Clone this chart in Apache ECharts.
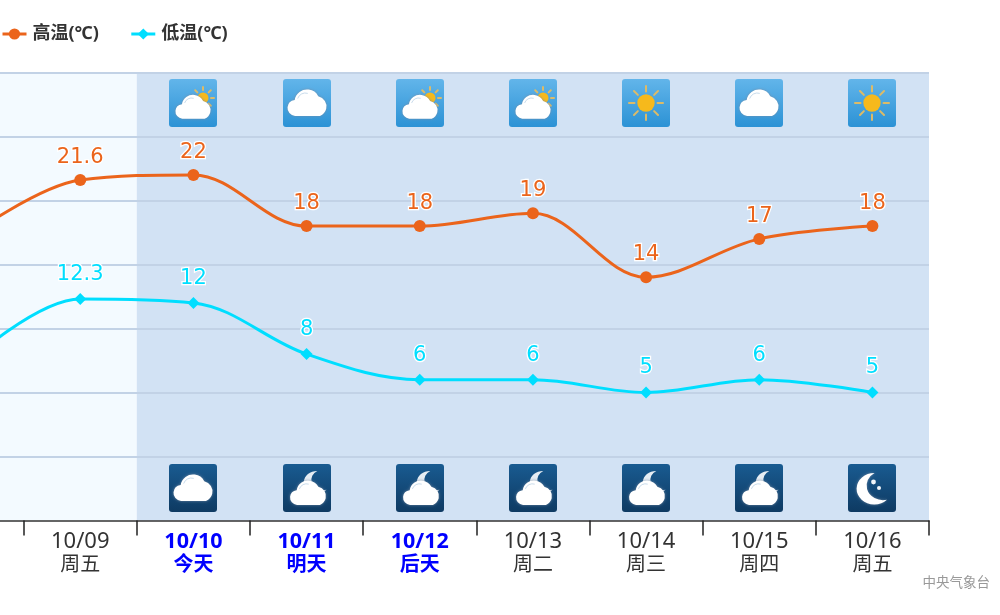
<!DOCTYPE html>
<html>
<head>
<meta charset="utf-8">
<style>html,body{margin:0;padding:0;background:#fff}#c{width:1000px;height:615px}</style>
<script src="https://cdn.jsdelivr.net/npm/echarts@6/dist/echarts.min.js"></script>
</head>
<body>
<div id="c"></div>
<script>
// Seven-day temperature forecast with day and night weather icons.
const dates = ['10/08','10/09','10/10','10/11','10/12','10/13','10/14','10/15','10/16'];
const weekdays = ['周四','周五','今天','明天','后天','周二','周三','周四','周五'];
const highlighted = ['10/10','10/11','10/12'];
const highs = [17.1,21.6,22,18,18,19,14,17,18];
const lows = [7.3,12.3,12,8,6,6,5,6,5];
const dayIcons = [null,null,'partly','cloud','partly','partly','sun','cloud','sun'];
const nightIcons = [null,null,'cloud','moonCloud','moonCloud','moonCloud','moonCloud','moonCloud','moon'];
const bandFills = ['rgba(0,0,0,0)','rgba(0,0,0,0)','#d2e2f4','#d2e2f4','#d2e2f4','#d2e2f4','#d2e2f4','#d2e2f4','#d2e2f4'];

const FONT = '"Noto Sans","Noto Sans CJK SC",sans-serif';
const VALUE_FONT = '"DejaVu Sans",sans-serif';
const ORANGE = '#eb641b', CYAN = '#00deff';
const DAY_ROW = 27.6, NIGHT_ROW = -2.45;

const CLOUD = 'M-12 13A7.4 7.4 0 0 1-12.3-1.7A11 11 0 0 1 8.5-5A9.5 9.5 0 0 1 10 13Z';
const MOON = 'M4-15A15.7 15.7 0 1 0 15 11.7A14.6 14.6 0 0 1 4-15Z';
const SHADE = {shadowBlur: 3, shadowColor: 'rgba(120,140,165,0.9)'};

function cloud(dx, dy, k) {
  return [
    {type: 'path', shape: {pathData: CLOUD, x: dx - 19.5 * k, y: dy - 13.5 * k, width: 39 * k, height: 26.5 * k, layout: 'cover'},
     style: Object.assign({fill: '#fff'}, SHADE)},
    {type: 'arc', shape: {cx: dx - 1.7 * k, cy: dy - 2 * k, r: 8 * k, startAngle: Math.PI * 1.1, endAngle: Math.PI * 1.6},
     style: {stroke: '#c9dcec', lineWidth: 1, fill: null}}
  ];
}

function sun(cx, cy, r, r0, r1) {
  const parts = [];
  for (let i = 0; i < 8; i++) {
    const a = i * Math.PI / 4;
    parts.push({type: 'line',
      shape: {x1: cx + r0 * Math.cos(a), y1: cy + r0 * Math.sin(a), x2: cx + r1 * Math.cos(a), y2: cy + r1 * Math.sin(a)},
      style: {stroke: '#dcbb68', lineWidth: 2, lineCap: 'round'}});
  }
  parts.push({type: 'circle', shape: {cx, cy, r}, style: {fill: '#f6b91c'}});
  return parts;
}

function iconParts(kind) {
  if (kind === 'sun') return sun(0, 0, 8.7, 11.5, 17);
  if (kind === 'cloud') return cloud(0, 0, 1);
  if (kind === 'partly') return sun(10, -5, 5.5, 8, 11).concat(cloud(0, 4, 0.9));
  if (kind === 'moon') {
    return [
      {type: 'path', shape: {pathData: MOON, x: -15.4, y: -15, width: 30.4, height: 31.4, layout: 'cover'},
       style: Object.assign({fill: '#fff'}, SHADE)},
      {type: 'circle', shape: {cx: 1.5, cy: -6, r: 2.4}, style: {fill: '#f2f6fa'}},
      {type: 'circle', shape: {cx: 7, cy: 0, r: 2}, style: {fill: '#f2f6fa'}}
    ];
  }
  return [
    {type: 'path', shape: {pathData: MOON, x: -3, y: -17, width: 22.5, height: 22, layout: 'cover'},
     style: {fill: '#e6edf3'}}
  ].concat(cloud(1, 5, 0.92));
}

function renderIcon(params, api) {
  const p = api.coord([api.value(0), api.value(1)]);
  const night = api.value(1) < 0;
  const top = night ? '#195b91' : '#62b5ea';
  const bottom = night ? '#0e3a62' : '#2c92d5';
  return {
    type: 'group', x: Math.round(p[0]), y: Math.round(p[1]),
    children: [{
      type: 'rect', shape: {x: -24, y: -24, width: 48, height: 48, r: 3},
      style: {fill: new echarts.graphic.LinearGradient(0, 0, 0, 1, [{offset: 0, color: top}, {offset: 1, color: bottom}])}
    }].concat(iconParts(api.value(2)))
  };
}

function iconRows() {
  const rows = [];
  dates.forEach((d, i) => {
    if (dayIcons[i]) rows.push([d, DAY_ROW, dayIcons[i]]);
    if (nightIcons[i]) rows.push([d, NIGHT_ROW, nightIcons[i]]);
  });
  return rows;
}

function tempSeries(name, values, color, symbol, size, distance) {
  return {
    name, type: 'line', data: values, smooth: 0.35,
    symbol, symbolSize: size, z: 4,
    lineStyle: {color, width: 3},
    itemStyle: {color},
    label: {show: true, position: 'top', distance, color, fontFamily: VALUE_FONT, fontSize: 21,
            textBorderColor: '#fff', textBorderWidth: 2.5}
  };
}

const chart = echarts.init(document.getElementById('c'), null, {renderer: 'canvas'});
chart.setOption({
  animation: false,
  backgroundColor: '#fff',
  title: {text: '中央气象台', right: 5, top: 571,
    textStyle: {color: '#999', fontSize: 13.5, fontWeight: 'normal', fontFamily: FONT}},
  legend: {
    left: -4, top: 20, itemWidth: 24, itemHeight: 14, itemGap: 31,
    data: ['高温(℃)', '低温(℃)'],
    lineStyle: {width: 3},
    textStyle: {color: '#333', fontSize: 18, fontWeight: 'bold', fontFamily: FONT, padding: [0, 0, 0, 1]}
  },
  grid: {left: -89.5, right: 71, top: 72.5, bottom: 94.5, show: true, backgroundColor: '#f3faff', borderWidth: 0, outerBoundsMode: 'none'},
  xAxis: {
    type: 'category', data: dates, boundaryGap: true, z: 0,
    axisLine: {onZero: false, lineStyle: {color: '#333', width: 1.5}},
    axisTick: {show: true, length: 15, lineStyle: {color: '#222', width: 1.5}},
    splitArea: {show: true, areaStyle: {color: bandFills}},
    axisLabel: {
      interval: 0, margin: 10, lineHeight: 23,
      formatter: (v, i) => {
        const s = highlighted.includes(v) ? 'on' : 'off';
        return `{${s}D|${v}}\n{${s}|${weekdays[i]}}`;
      },
      rich: {
        onD: {color: '#0000ff', fontWeight: 'bold', fontSize: 21.5, lineHeight: 23, fontFamily: FONT},
        on: {color: '#0000ff', fontWeight: 'bold', fontSize: 20, lineHeight: 23, fontFamily: FONT},
        offD: {color: '#333', fontSize: 22, lineHeight: 23, fontFamily: FONT},
        off: {color: '#333', fontSize: 20, lineHeight: 23, fontFamily: FONT}
      }
    }
  },
  yAxis: {
    type: 'value', min: -5, max: 30, interval: 5, z: 1,
    axisLine: {show: false}, axisTick: {show: false}, axisLabel: {show: false},
    splitLine: {show: true, showMinLine: false, lineStyle: {color: '#c2d2e6', width: 2}}
  },
  series: [
    tempSeries('高温(℃)', highs, ORANGE, 'circle', 12, 6),
    tempSeries('低温(℃)', lows, CYAN, 'diamond', 12, 8),
    {name: 'icons', type: 'custom', renderItem: renderIcon, data: iconRows(),
     encode: {x: 0, y: 1}, z: 3, silent: true, clip: false}
  ]
});
</script>
</body>
</html>
